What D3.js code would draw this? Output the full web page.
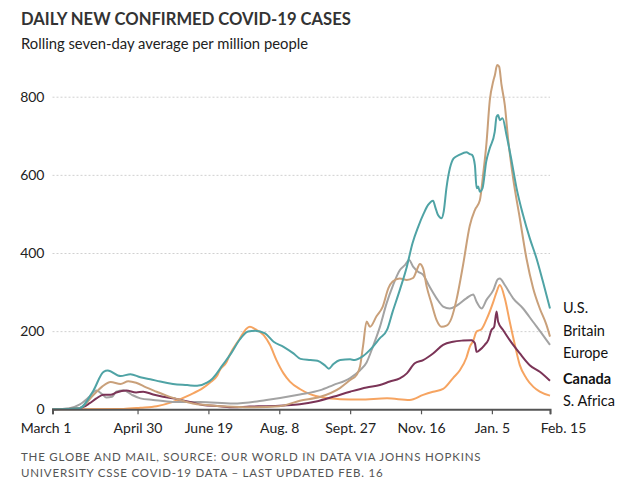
<!DOCTYPE html>
<html><head><meta charset="utf-8">
<script src="https://cdn.jsdelivr.net/npm/d3@7"></script>
<style>
body{margin:0;background:#fff;}
svg{display:block;font-family:Lato,"Open Sans",sans-serif;}
</style></head><body>
<svg id="chart" width="622" height="493"></svg>
<script>
// ---------- DATA ----------
const titleText = "DAILY NEW CONFIRMED COVID-19 CASES";
const subtitleText = "Rolling seven-day average per million people";
const sourceLines = ["THE GLOBE AND MAIL, SOURCE: OUR WORLD IN DATA VIA JOHNS HOPKINS",
                     "UNIVERSITY CSSE COVID-19 DATA \u2013 LAST UPDATED FEB. 16"];
const startDate = "2020-03-01";
const endDate = "2021-02-15";
const xTickDates = ["2020-03-01","2020-04-30","2020-06-19","2020-08-08","2020-09-27","2020-11-16","2021-01-05","2021-02-15"];
const xTickLabels = ["March 1","April 30","June 19","Aug. 8","Sept. 27","Nov. 16","Jan. 5","Feb. 15"];
const yTicks = [0,200,400,600,800];
const seriesNames = ["U.S.","Britain","Europe","Canada","S. Africa"];

// days since March 1, 2020 and 7-day average per million
const usDays = [0,19,29,36,39,48,55,62,69,76,85,95,102,109,113,120,126,132,138,143,150,156,163,170,175,182,187,192,195,198,203,210,213,219,225,231,236,240,245,250,254,258,262,265,268.5,270,272,274.5,276,278,283,287,292,294.5,296,298,299.2,300.3,301.5,303.4,306,308.5,312,313.3,314.4,315.6,317.5,320.3,324,327.4,332,336.7,341.5,346,351];
const usValues = [0,3,49,96,99,85,90,82,77,71,65,62,60,68,79,113,143,178,199,201,194,173,160,143,129,126,124,113,104,115,126,128,126,136,156,182,203,250,305,365,425,467,502,523,534,518,497,489,506,568,642,651,658,653,651,625,566,570,557,566,634,668,710,749,753,740,745,702,634,566,497,438,386,327,258];

const britainDays = [0,19,29,35,41,48,53.5,59,66,73.5,80.5,90,99,109,123,139,160,174.5,189,203,210,214.5,217,219.2,221.6,224,228.6,233,237,240,245,250,254.4,257,259.2,261.5,264,267.4,271,274.5,278,281.5,285,289.7,294.4,298,301.5,303.8,306.2,308.5,311,312.1,313.7,315.1,316.8,319.1,321.4,325,329.7,334.4,339.1,343.8,348.5,351];
const britainValues = [0,3,37,58,70,65,72,68,56,45,35,24,15,11,7,5,8,22,32,55,75,88,110,165,225,211,238,263,310,327,335,331,336,356,372,360,314,271,228,211,214,233,280,370,470,510,535,600,682,790,840,855,881,877,830,779,693,591,489,386,310,258,216,186];

const europeDays = [0,12,19,26,31,35,38,42,45,50,56,62,71,85,104,127.5,151,174.5,189,198,210,217,221.6,226,231,235.7,240.3,245,248.6,251.6,254.4,258,261.5,266,271,275.6,280.3,285,292,296.8,299.2,302.7,306.2,311,314.2,315.6,319.1,325,332,339,346,351];
const europeValues = [0,3,12,32,48,39,30,32,45,49,37,28,24,19,19,15,24,38,49,62,80,100,120,160,211,271,318,356,369,382,365,352,344,314,284,263,258,265,284,294,275,258,280,305,333,335,318,284,258,224,190,165];

const canadaDays = [0,19,26,31,36,41,45,52,59,64,71,78,88,97,106,118,127.5,139,151,163,174.5,186,198,210,221.6,231,238,245,250,255.6,261.5,268.5,275.6,282.6,289.7,295.6,298,299.2,301.5,305,307.4,309.7,311.6,313.3,314.4,317.9,322.6,329.7,336.7,343.8,351];
const canadaValues = [0,3,15,28,37,37,43,48,43,45,38,32,26,19,11,8,5,7,8,10,13,20,32,45,56,62,71,79,92,118,126,143,165,173,176,177,169,147,152,165,177,203,211,250,224,203,177,143,113,96,73];

const southAfricaDays = [0,50,62,73.5,85,97,106,111,116,118,123,125,132,137,139.3,143,149,153.4,158,163,167.5,174.5,181.6,191,203,217,236,252,261.5,268.5,275.6,282.6,287.4,292,294.4,296.8,299.2,302.7,306.2,311,313.3,315.6,319.1,322.6,326.2,329.7,334.4,339.1,343.8,351];
const southAfricaValues = [0,1,4,8,19,37,54,68,85,100,122,139,180,207,211,205,190,165,126,92,71,52,39,30,26,25,28,24,37,45,52,80,100,132,160,175,199,205,230,275,300,318,284,224,165,113,79,58,45,35];

// ---------- LAYOUT / STYLE ----------
const colors = ["#4fa3a5","#c9a07a","#a3a3a3","#7b3457","#f6a461"];
const legendY = [313,336,358,384,406];
const plotLeft = 52.5, plotRight = 550, plotBottom = 409.3, plotTop = 96.7;

const svg = d3.select("#chart");
const parse = d3.utcParse("%Y-%m-%d");
const t0 = parse(startDate);

const x = d3.scaleUtc().domain([t0, parse(endDate)]).range([plotLeft, plotRight]);
const y = d3.scaleLinear().domain([0, 800]).range([plotBottom, plotTop]);

// title
svg.append("text").attr("x", 21).attr("y", 25)
  .attr("font-size", 16.6).attr("font-weight", 700).attr("fill", "#333")
  .text(titleText);
svg.append("text").attr("x", 21).attr("y", 49)
  .attr("font-size", 14.8).attr("fill", "#222")
  .text(subtitleText);

// gridlines
const grid = svg.append("g").attr("transform", `translate(${plotLeft},0)`)
  .call(d3.axisLeft(y).tickValues(yTicks.filter(v => v > 0)).tickSize(-(plotRight - plotLeft)).tickFormat(""));
grid.select(".domain").remove();
grid.selectAll(".tick line").attr("stroke", "#d0d0d0").attr("stroke-dasharray", "2,2");

// y labels
const yAxis = svg.append("g").attr("transform", `translate(${plotLeft},0)`)
  .call(d3.axisLeft(y).tickValues(yTicks).tickSize(0).tickPadding(8));
yAxis.select(".domain").remove();
yAxis.selectAll("text").attr("font-size", 14).attr("fill", "#222")
  .attr("font-family", "Lato,'Open Sans',sans-serif");

// lines
const series = seriesNames.map((name, i) => {
  const days = [usDays, britainDays, europeDays, canadaDays, southAfricaDays][i];
  const vals = [usValues, britainValues, europeValues, canadaValues, southAfricaValues][i];
  return {name, color: colors[i], points: days.map((d, j) => ({date: new Date(t0.getTime() + d * 864e5), v: vals[j]}))};
});
const line = d3.line().x(d => x(d.date)).y(d => y(d.v)).curve(d3.curveMonotoneX);
const drawOrder = [4, 2, 3, 1, 0];
svg.append("g").selectAll("path").data(drawOrder.map(i => series[i])).join("path")
  .attr("d", d => line(d.points)).attr("fill", "none")
  .attr("stroke", d => d.color).attr("stroke-width", 2).attr("stroke-linejoin", "round");

// x axis
const xAxis = svg.append("g").attr("transform", `translate(0,${plotBottom})`)
  .call(d3.axisBottom(x).tickValues(xTickDates.map(parse)).tickFormat((d, i) => xTickLabels[i]).tickSize(5).tickPadding(9));
xAxis.select(".domain").attr("stroke", "#555").attr("stroke-width", 2);
xAxis.selectAll(".tick line").attr("stroke", "#555").attr("stroke-width", 1.2);
xAxis.selectAll("text").attr("font-size", 14).attr("fill", "#222")
  .attr("font-family", "Lato,'Open Sans',sans-serif");
xAxis.selectAll(".tick text").filter((d, i) => i === 0).attr("dx", -7);
xAxis.selectAll(".tick text").filter((d, i) => i === xTickDates.length - 1).attr("dx", 13);

// legend labels
svg.append("g").selectAll("text").data(series).join("text")
  .attr("x", 563).attr("y", (d, i) => legendY[i])
  .attr("font-size", 14.5).attr("fill", "#111")
  .attr("font-weight", d => d.name === "Canada" ? 700 : 400)
  .text(d => d.name);

// source
svg.append("g").selectAll("text").data(sourceLines).join("text")
  .attr("x", 21).attr("y", (d, i) => 461 + i * 16)
  .attr("font-size", 11.5).attr("fill", "#555").attr("letter-spacing", 0.8)
  .text(d => d);
</script>
</body></html>
